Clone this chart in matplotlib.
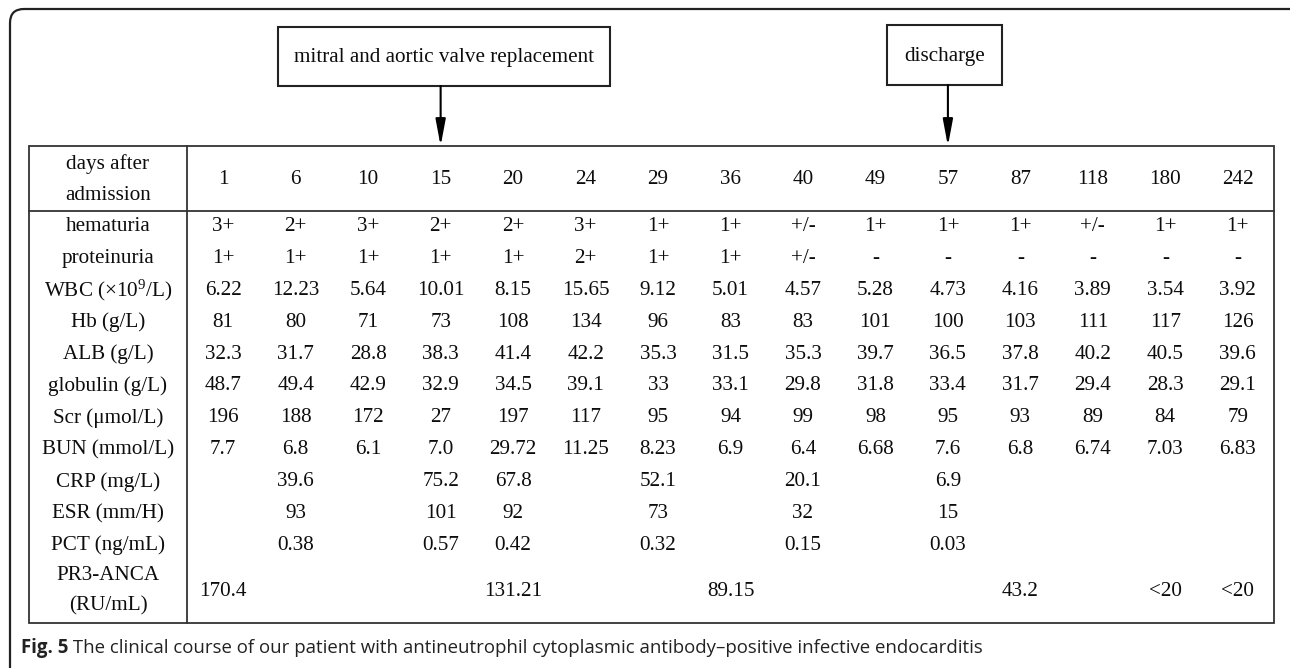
import matplotlib
matplotlib.use("Agg")
import matplotlib.pyplot as plt
from matplotlib.patches import FancyBboxPatch, Rectangle, FancyArrowPatch

plt.rcParams['font.family'] = ['Liberation Serif', 'DejaVu Serif']
plt.rcParams['mathtext.fontset'] = 'custom'
plt.rcParams['mathtext.rm'] = 'Liberation Serif'
plt.rcParams['mathtext.it'] = 'Liberation Serif:italic'
plt.rcParams['mathtext.bf'] = 'Liberation Serif:bold'

# ---------------- data ----------------
days = ["1", "6", "10", "15", "20", "24", "29", "36", "40", "49", "57", "87", "118", "180", "242"]
row_labels = ["hematuria", "proteinuria", "WBC (\u00d710$^{9}$/L)", "Hb (g/L)", "ALB (g/L)",
              "globulin (g/L)", "Scr (\u03bcmol/L)", "BUN (mmol/L)", "CRP (mg/L)",
              "ESR (mm/H)", "PCT (ng/mL)"]
hematuria = ["3+", "2+", "3+", "2+", "2+", "3+", "1+", "1+", "+/-", "1+", "1+", "1+", "+/-", "1+", "1+"]
proteinuria = ["1+", "1+", "1+", "1+", "1+", "2+", "1+", "1+", "+/-", "-", "-", "-", "-", "-", "-"]
wbc = ["6.22", "12.23", "5.64", "10.01", "8.15", "15.65", "9.12", "5.01", "4.57", "5.28", "4.73", "4.16", "3.89", "3.54", "3.92"]
hb = ["81", "80", "71", "73", "108", "134", "96", "83", "83", "101", "100", "103", "111", "117", "126"]
alb = ["32.3", "31.7", "28.8", "38.3", "41.4", "42.2", "35.3", "31.5", "35.3", "39.7", "36.5", "37.8", "40.2", "40.5", "39.6"]
globulin = ["48.7", "49.4", "42.9", "32.9", "34.5", "39.1", "33", "33.1", "29.8", "31.8", "33.4", "31.7", "29.4", "28.3", "29.1"]
scr = ["196", "188", "172", "27", "197", "117", "95", "94", "99", "98", "95", "93", "89", "84", "79"]
bun = ["7.7", "6.8", "6.1", "7.0", "29.72", "11.25", "8.23", "6.9", "6.4", "6.68", "7.6", "6.8", "6.74", "7.03", "6.83"]
crp = ["", "39.6", "", "75.2", "67.8", "", "52.1", "", "20.1", "", "6.9", "", "", "", ""]
esr = ["", "93", "", "101", "92", "", "73", "", "32", "", "15", "", "", "", ""]
pct = ["", "0.38", "", "0.57", "0.42", "", "0.32", "", "0.15", "", "0.03", "", "", "", ""]
pr3_label = ["PR3-ANCA", "(RU/mL)"]
pr3 = ["170.4", "", "", "", "131.21", "", "", "89.15", "", "", "", "43.2", "", "<20", "<20"]
events = ["mitral and aortic valve replacement", "discharge"]
event_days = ["15", "57"]
caption_bold = "Fig. 5"
caption_text = " The clinical course of our patient with antineutrophil cytoplasmic antibody\u2013positive infective endocarditis"

rows = [hematuria, proteinuria, wbc, hb, alb, globulin, scr, bun, crp, esr, pct]

# ---------------- layout ----------------
W, H = 1290, 668
fig = plt.figure(figsize=(W / 100, H / 100), dpi=100)
ax = fig.add_axes([0, 0, 1, 1])
ax.set_xlim(0, W)
ax.set_ylim(H, 0)
ax.axis('off')

txt_col = '#0d0d0d'
line_col = '#333333'
fs = 15.2

def T(x, y, s, **kw):
    return ax.text(x, y, s, ha='center', va='center', fontsize=fs, color=txt_col, **kw)

# outer rounded frame
frame = FancyBboxPatch((10, 9), 1300, 700, boxstyle="round,pad=0,rounding_size=14",
                       fc='white', ec='#222222', lw=1.6, zorder=0)
ax.add_patch(frame)

# table geometry
tl, tr = 29, 1274
tt, tb = 146, 623
div_x = 187
head_b = 211
ncol = len(days)
cw = (tr - div_x) / ncol
col_x = [div_x + cw * (i + 0.5) for i in range(ncol)]
label_x = (tl + div_x) / 2
row_pitch = 31.9
row_y0 = 226.5

ax.add_patch(Rectangle((tl, tt), tr - tl, tb - tt, fc='none', ec=line_col, lw=1.3, zorder=2))
ax.plot([div_x, div_x], [tt, tb], color=line_col, lw=1.3, zorder=2)
ax.plot([tl, tr], [head_b, head_b], color=line_col, lw=1.3, zorder=2)

# header
hy = (tt + head_b) / 2
T(label_x, 164, "days after")
T(label_x, 195, "admission")
for x, d in zip(col_x, days):
    T(x, hy + 1, d)

# body rows
for r, (lab, vals) in enumerate(zip(row_labels, rows)):
    y = row_y0 + r * row_pitch
    T(label_x, y, lab)
    for x, v in zip(col_x, vals):
        if v:
            T(x, y, v)

# PR3-ANCA double row
T(label_x, 575, pr3_label[0])
T(label_x, 606, pr3_label[1])
for x, v in zip(col_x, pr3):
    if v:
        T(x, 592, v)

# event boxes with arrows
boxes = [(278, 610, 27, 86), (887, 1002, 25, 85)]
for (x0, x1, y0, y1), ev, d in zip(boxes, events, event_days):
    ax.add_patch(Rectangle((x0, y0), x1 - x0, y1 - y0, fc='white', ec='#222222', lw=1.5, zorder=3))
    T((x0 + x1) / 2, (y0 + y1) / 2 + 1, ev)
    xa = col_x[days.index(d)]
    arr = FancyArrowPatch((xa, y1), (xa, tt), arrowstyle='-|>,head_length=0.8,head_width=0.15',
                          mutation_scale=20, color='black', lw=1.5, shrinkA=0, shrinkB=0, zorder=3)
    ax.add_patch(arr)

# caption
cfs = 13.4
t1 = ax.text(21, 648, caption_bold, ha='left', va='center', fontsize=cfs,
             fontweight='bold', family=['Open Sans', 'DejaVu Sans'], color='#222222')
fig.canvas.draw()
bb = t1.get_window_extent()
inv = ax.transData.inverted()
x_end = inv.transform((bb.x1, bb.y0))[0]
ax.text(x_end, 648, caption_text, ha='left', va='center', fontsize=cfs,
        family=['Open Sans', 'DejaVu Sans'], color='#222222')

fig.savefig('out.png', dpi=100)
